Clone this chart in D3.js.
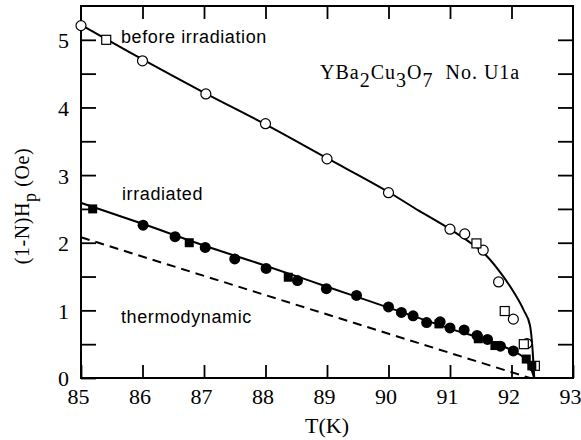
<!DOCTYPE html>
<html><head><meta charset="utf-8">
<script src="https://cdn.jsdelivr.net/npm/d3@7"></script>
<style>body{margin:0;background:#fff}</style>
</head><body>
<svg id="c" width="581" height="440"></svg>
<script>
// ---- data ----
const beforeCircT = [85.0, 86.0, 87.03, 88.0, 89.0, 90.0, 91.0, 91.24, 91.54, 91.79, 92.03, 92.25];
const beforeCircV = [5.21, 4.69, 4.20, 3.76, 3.24, 2.74, 2.20, 2.13, 1.89, 1.42, 0.87, 0.51];
const beforeSqT = [85.41, 91.43, 91.89, 92.2, 92.38];
const beforeSqV = [5.0, 1.99, 0.99, 0.50, 0.18];
const irrCircT = [86.01, 86.53, 87.02, 87.5, 88.01, 88.52, 88.99, 89.48, 90.0, 90.21, 90.4, 90.62, 90.84, 91.0, 91.23, 91.44, 91.61, 91.82, 92.03];
const irrCircV = [2.26, 2.09, 1.93, 1.76, 1.62, 1.44, 1.32, 1.22, 1.05, 0.97, 0.92, 0.82, 0.83, 0.74, 0.71, 0.63, 0.57, 0.47, 0.40];
const irrSqT = [85.19, 86.76, 88.37, 90.82, 91.46, 91.73, 92.24, 92.33];
const irrSqV = [2.50, 2.00, 1.49, 0.80, 0.58, 0.48, 0.28, 0.18];
const fitBeforeT = [85, 86, 87, 88, 89, 90, 90.5, 91, 91.3, 91.6, 91.85, 92.05, 92.2, 92.3, 92.34, 92.37];
const fitBeforeV = [5.22, 4.71, 4.22, 3.75, 3.25, 2.75, 2.47, 2.2, 2.02, 1.8, 1.52, 1.25, 1.0, 0.78, 0.45, 0];
const fitIrrT = [85, 86, 87, 88, 89, 90, 91, 92, 92.2, 92.3, 92.37];
const fitIrrV = [2.59, 2.28, 1.96, 1.66, 1.35, 1.04, 0.73, 0.41, 0.30, 0.18, 0];
const thermoT = [85, 92.3];
const thermoV = [2.08, 0];
const xTicks = [85, 86, 87, 88, 89, 90, 91, 92, 93];
const yTicks = [0, 0.5, 1, 1.5, 2, 2.5, 3, 3.5, 4, 4.5, 5];

// ---- layout ----
const L = 81, R = 573, T = 6, B = 378;
const svg = d3.select("#c");
const x = d3.scaleLinear().domain([85, 93]).range([L, R]);
const y = d3.scaleLinear().domain([0, 5.5]).range([B, T]);
const serif = "'Liberation Serif','Times New Roman',serif";
const sans = "'Liberation Sans',Arial,sans-serif";
const zip = (a, b) => a.map((v, i) => [v, b[i]]);

// axes
const gB = svg.append("g").attr("transform", `translate(0,${B})`)
  .call(d3.axisBottom(x).tickValues(xTicks).tickSizeInner(-13).tickSizeOuter(0).tickPadding(10).tickFormat(d3.format("d")));
const gT = svg.append("g").attr("transform", `translate(0,${T})`)
  .call(d3.axisTop(x).tickValues(xTicks.slice(1, -1)).tickSizeInner(-13).tickSizeOuter(0).tickFormat(""));
const gL = svg.append("g").attr("transform", `translate(${L},0)`)
  .call(d3.axisLeft(y).tickValues(yTicks).tickSizeInner(-15).tickSizeOuter(0).tickPadding(12)
    .tickFormat(d => Number.isInteger(d) ? d : ""));
const gR = svg.append("g").attr("transform", `translate(${R},0)`)
  .call(d3.axisRight(y).tickValues(yTicks.slice(1)).tickSizeInner(-15).tickSizeOuter(0).tickFormat(""));
[gB, gT, gL, gR].forEach(g => {
  g.select(".domain").remove();
  g.selectAll(".tick line").attr("stroke", "#000").attr("stroke-width", 1.8);
  g.selectAll(".tick text").attr("font-family", serif).attr("font-size", 22).attr("fill", "#000");
});
gB.selectAll(".tick text").attr("dx", -3);
gL.selectAll(".tick text").attr("dy", "0.36em");
// frame
svg.append("rect").attr("x", L).attr("y", T).attr("width", R - L).attr("height", B - T)
  .attr("fill", "none").attr("stroke", "#000").attr("stroke-width", 2);

// lines
const line = d3.line().x(d => x(d[0])).y(d => y(d[1])).curve(d3.curveMonotoneX);
svg.append("path").datum(zip(fitBeforeT, fitBeforeV)).attr("d", line)
  .attr("fill", "none").attr("stroke", "#000").attr("stroke-width", 2);
svg.append("path").datum(zip(fitIrrT, fitIrrV)).attr("d", line)
  .attr("fill", "none").attr("stroke", "#000").attr("stroke-width", 2);
svg.append("path").datum(zip(thermoT, thermoV)).attr("d", d3.line().x(d => x(d[0])).y(d => y(d[1])))
  .attr("fill", "none").attr("stroke", "#000").attr("stroke-width", 2).attr("stroke-dasharray", "9,6");

// markers
svg.append("g").selectAll("circle").data(zip(beforeCircT, beforeCircV)).join("circle")
  .attr("cx", d => x(d[0])).attr("cy", d => y(d[1])).attr("r", 5)
  .attr("fill", "#fff").attr("stroke", "#000").attr("stroke-width", 1.2);
svg.append("g").selectAll("rect").data(zip(beforeSqT, beforeSqV)).join("rect")
  .attr("x", d => x(d[0]) - 4.5).attr("y", d => y(d[1]) - 4.5).attr("width", 9).attr("height", 9)
  .attr("fill", "#fff").attr("stroke", "#000").attr("stroke-width", 1.2);
svg.append("g").selectAll("circle").data(zip(irrCircT, irrCircV)).join("circle")
  .attr("cx", d => x(d[0])).attr("cy", d => y(d[1])).attr("r", 5.5).attr("fill", "#000");
svg.append("g").selectAll("rect").data(zip(irrSqT, irrSqV)).join("rect")
  .attr("x", d => x(d[0]) - 4.5).attr("y", d => y(d[1]) - 4.5).attr("width", 9).attr("height", 9)
  .attr("fill", "#000");

// annotations
const ann = (t, px, py) => svg.append("text").attr("x", px).attr("y", py).text(t)
  .attr("font-family", sans).attr("font-size", 18).attr("letter-spacing", 0.6).attr("fill", "#000");
ann("before irradiation", 121, 43);
ann("irradiated", 122, 200);
ann("thermodynamic", 121, 323);

// title
const title = svg.append("text").attr("x", 320).attr("y", 79).attr("font-family", serif)
  .attr("font-size", 20).attr("letter-spacing", 1).attr("fill", "#000");
[["YBa", 0], ["2", 8], ["Cu", -8], ["3", 8], ["O", -8], ["7", 8], ["\u00a0\u00a0No. U1a", -8]]
  .forEach(([s, dy]) => title.append("tspan").attr("dy", dy).text(s));

// axis titles
svg.append("text").attr("x", 327).attr("y", 433).attr("text-anchor", "middle")
  .attr("font-family", serif).attr("font-size", 22).attr("fill", "#000").text("T(K)");
const yl = svg.append("text").attr("transform", "translate(29,206) rotate(-90)").attr("text-anchor", "middle")
  .attr("font-family", serif).attr("font-size", 20).attr("letter-spacing", 0.6).attr("fill", "#000");
yl.append("tspan").text("(1-N)H");
yl.append("tspan").attr("dy", 7).attr("font-size", 18).text("p");
yl.append("tspan").attr("dy", -7).text(" (Oe)");
</script>
</body></html>
